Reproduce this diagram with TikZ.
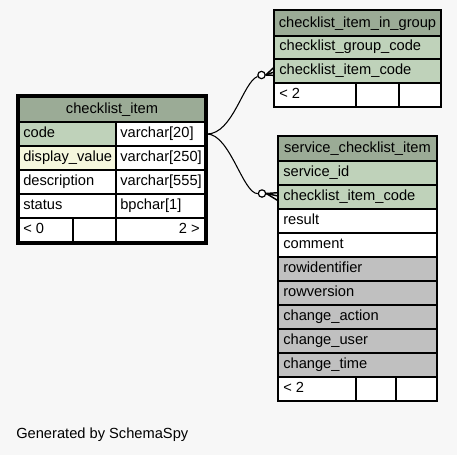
\documentclass[tikz,border=0pt]{standalone}
\usepackage{fontspec}
\setmainfont{Liberation Sans}
\usetikzlibrary{arrows.meta}

\definecolor{bgcol}{RGB}{247,247,247}
\definecolor{hdrcol}{RGB}{155,171,150}
\definecolor{keycol}{RGB}{191,210,186}
\definecolor{idxcol}{RGB}{245,247,221}
\definecolor{greycol}{RGB}{192,192,192}

\begin{document}
\begin{tikzpicture}
[x=0.75pt, y=-0.75pt,
cell/.style={draw=black, line width=1.1pt},
txt/.style={anchor=base west, inner sep=0pt, font=\fontsize{11}{13}\selectfont},
hdr/.style={anchor=base, inner sep=0pt, font=\fontsize{11}{13}\selectfont},
dot/.style={circle, draw=black, fill=white, line width=0.9pt, inner sep=0pt, minimum size=5.5pt},
link/.style={line width=0.8pt},
crow/.style={line width=1.1pt}]
  \fill [bgcol] (0,0) rectangle (457,455);
  \useasboundingbox (0,0) rectangle (457,455);

  % checklist_item
  \draw [cell, fill=hdrcol] (19,97) rectangle (205,122);
  \draw [cell, fill=keycol] (19,122) rectangle (116,146);
  \draw [cell, fill=white] (116,122) rectangle (205,146);
  \draw [cell, fill=idxcol] (19,146) rectangle (116,170);
  \draw [cell, fill=white] (116,146) rectangle (205,170);
  \draw [cell, fill=white] (19,170) rectangle (116,194);
  \draw [cell, fill=white] (116,170) rectangle (205,194);
  \draw [cell, fill=white] (19,194) rectangle (116,218);
  \draw [cell, fill=white] (116,194) rectangle (205,218);
  \draw [cell, fill=white] (19,218) rectangle (73,242);
  \draw [cell, fill=white] (73,218) rectangle (116,242);
  \draw [cell, fill=white] (116,218) rectangle (205,242);
  \draw [line width=2.25pt] (17.5,95.5) rectangle (206,243);
  \node [hdr] (ci) at (112,113.5) {checklist\_item};
  \node [txt] (ci-code) at (23,137.5) {code};
  \node [txt] at (120,137.5) {varchar[20]};
  \node [txt] (ci-display) at (23,161.5) {display\_value};
  \node [txt] at (120,161.5) {varchar[250]};
  \node [txt] (ci-desc) at (23,185.5) {description};
  \node [txt] at (120,185.5) {varchar[555]};
  \node [txt] (ci-status) at (23,209.5) {status};
  \node [txt] at (120,209.5) {bpchar[1]};
  \node [txt] at (23,233.5) {< 0};
  \node [txt, anchor=base east] at (200,233.5) {2 >};
  \coordinate (ci-out) at (207,134);

  % checklist_item_in_group
  \draw [cell, fill=hdrcol] (274,10) rectangle (441,36);
  \draw [cell, fill=keycol] (274,36) rectangle (441,59);
  \draw [cell, fill=keycol] (274,59) rectangle (441,83);
  \draw [cell, fill=white] (274,83) rectangle (356,107);
  \draw [cell, fill=white] (356,83) rectangle (399,107);
  \draw [cell, fill=white] (399,83) rectangle (441,107);
  \node [hdr] (cig) at (357.5,27.5) {checklist\_item\_in\_group};
  \node [txt] (cig-group) at (279,50.5) {checklist\_group\_code};
  \node [txt] (cig-item) at (279,74.5) {checklist\_item\_code};
  \node [txt] at (279,98.5) {< 2};

  % service_checklist_item
  \draw [cell, fill=hdrcol] (278,136) rectangle (437,161);
  \draw [cell, fill=keycol] (278,161) rectangle (437,185);
  \draw [cell, fill=keycol] (278,185) rectangle (437,209);
  \draw [cell, fill=white] (278,209) rectangle (437,233);
  \draw [cell, fill=white] (278,233) rectangle (437,257);
  \draw [cell, fill=greycol] (278,257) rectangle (437,281);
  \draw [cell, fill=greycol] (278,281) rectangle (437,305);
  \draw [cell, fill=greycol] (278,305) rectangle (437,329);
  \draw [cell, fill=greycol] (278,329) rectangle (437,353);
  \draw [cell, fill=greycol] (278,353) rectangle (437,377);
  \draw [cell, fill=white] (278,377) rectangle (356,401);
  \draw [cell, fill=white] (356,377) rectangle (396,401);
  \draw [cell, fill=white] (396,377) rectangle (437,401);
  \node [hdr] (sci) at (357.5,152.5) {service\_checklist\_item};
  \node [txt] (sci-service) at (283,176.5) {service\_id};
  \node [txt] (sci-item) at (283,200.5) {checklist\_item\_code};
  \node [txt] (sci-result) at (283,224.5) {result};
  \node [txt] (sci-comment) at (283,248.5) {comment};
  \node [txt] (sci-rowid) at (283,272.5) {rowidentifier};
  \node [txt] (sci-rowver) at (283,296.5) {rowversion};
  \node [txt] (sci-action) at (283,320.5) {change\_action};
  \node [txt] (sci-user) at (283,344.5) {change\_user};
  \node [txt] (sci-time) at (283,368.5) {change\_time};
  \node [txt] at (283,392.5) {< 2};

  % relationships
  \node [dot] (dot1) at (261.5,75) {};
  \node [dot] (dot2) at (262,193.5) {};
  \draw [link] (ci-out) .. controls (233,134) and (243,82) .. (dot1);
  \draw [link] (ci-out) .. controls (230,134) and (243,194) .. (dot2);
  \coordinate (cig-in) at (274,72);
  \coordinate (sci-in) at (278,196);
  \draw [crow] (dot1.east) -- ([yshift=3.5pt]cig-in);
  \draw [crow] (dot1.east) -- (cig-in);
  \draw [crow] (dot1.east) -- ([yshift=-2.5pt]cig-in);
  \draw [crow] (dot2.east) -- ([yshift=2.5pt]sci-in);
  \draw [crow] (dot2.east) -- (sci-in);
  \draw [crow] (dot2.east) -- ([yshift=-3.5pt]sci-in);

  \node [txt] (credit) at (16,438) {Generated by SchemaSpy};
\end{tikzpicture}
\end{document}
